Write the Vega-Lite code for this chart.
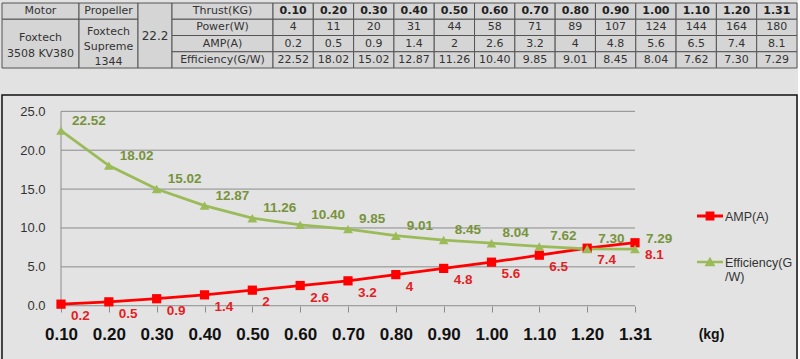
{
  "$schema": "https://vega.github.io/schema/vega-lite/v6.json",
  "background": "#e2e2e2",
  "padding": {"left": 1, "top": 2, "right": 0, "bottom": 0},
  "config": {"view": {"stroke": null}, "font": "DejaVu Sans"},
  "datasets": {
    "perf": [
      {"thrust": "0.10", "power": 4, "amp": 0.2, "eff": 22.52},
      {"thrust": "0.20", "power": 11, "amp": 0.5, "eff": 18.02},
      {"thrust": "0.30", "power": 20, "amp": 0.9, "eff": 15.02},
      {"thrust": "0.40", "power": 31, "amp": 1.4, "eff": 12.87},
      {"thrust": "0.50", "power": 44, "amp": 2, "eff": 11.26},
      {"thrust": "0.60", "power": 58, "amp": 2.6, "eff": 10.40},
      {"thrust": "0.70", "power": 71, "amp": 3.2, "eff": 9.85},
      {"thrust": "0.80", "power": 89, "amp": 4, "eff": 9.01},
      {"thrust": "0.90", "power": 107, "amp": 4.8, "eff": 8.45},
      {"thrust": "1.00", "power": 124, "amp": 5.6, "eff": 8.04},
      {"thrust": "1.10", "power": 144, "amp": 6.5, "eff": 7.62},
      {"thrust": "1.20", "power": 164, "amp": 7.4, "eff": 7.30},
      {"thrust": "1.31", "power": 180, "amp": 8.1, "eff": 7.29}
    ]
  },
  "spacing": 25,
  "vconcat": [
    {
      "bounds": "flush",
      "spacing": 0,
      "hconcat": [
        {
          "width": 77, "height": 65,
          "data": {"values": [{"c": "Motor", "r0": 0, "r1": 1, "t": "Motor"}, {"c": "Motor", "r0": 1, "r1": 4, "t": "Foxtech\n3508 KV380"}]},
          "transform": [{"calculate": "(datum.r0+datum.r1)/2", "as": "rm"}],
          "layer": [
            {"mark": {"type": "rect", "fill": "#d5d5d5", "stroke": "#555", "strokeWidth": 1},
             "encoding": {"x": {"field": "c", "type": "nominal", "scale": {"paddingInner": 0, "paddingOuter": 0}, "axis": null},
                          "y": {"field": "r0", "type": "quantitative", "scale": {"domain": [0, 4], "reverse": true, "nice": false, "zero": false}, "axis": null},
                          "y2": {"field": "r1"}}},
            {"transform": [{"filter": "datum.r0 == 0"}],
             "mark": {"type": "text", "fontSize": 11, "color": "#333"},
             "encoding": {"x": {"field": "c", "type": "nominal"}, "y": {"field": "rm", "type": "quantitative"}, "text": {"field": "t"}}},
            {"transform": [{"filter": "datum.r0 == 1"}],
             "mark": {"type": "text", "fontSize": 11, "color": "#333", "lineBreak": "\n", "lineHeight": 16, "dy": -6},
             "encoding": {"x": {"field": "c", "type": "nominal"}, "y": {"field": "rm", "type": "quantitative"}, "text": {"field": "t"}}}
          ]
        },
        {
          "width": 59, "height": 65,
          "data": {"values": [{"c": "Propeller", "r0": 0, "r1": 1, "t": "Propeller"}, {"c": "Propeller", "r0": 1, "r1": 4, "t": "Foxtech\nSupreme\n1344"}]},
          "transform": [{"calculate": "(datum.r0+datum.r1)/2", "as": "rm"}],
          "layer": [
            {"mark": {"type": "rect", "fill": "#d5d5d5", "stroke": "#555", "strokeWidth": 1},
             "encoding": {"x": {"field": "c", "type": "nominal", "scale": {"paddingInner": 0, "paddingOuter": 0}, "axis": null},
                          "y": {"field": "r0", "type": "quantitative", "scale": {"domain": [0, 4], "reverse": true, "nice": false, "zero": false}, "axis": null},
                          "y2": {"field": "r1"}}},
            {"transform": [{"filter": "datum.r0 == 0"}],
             "mark": {"type": "text", "fontSize": 11, "color": "#333"},
             "encoding": {"x": {"field": "c", "type": "nominal"}, "y": {"field": "rm", "type": "quantitative"}, "text": {"field": "t"}}},
            {"transform": [{"filter": "datum.r0 == 1"}],
             "mark": {"type": "text", "fontSize": 11, "color": "#333", "lineBreak": "\n", "lineHeight": 15, "dy": -12},
             "encoding": {"x": {"field": "c", "type": "nominal"}, "y": {"field": "rm", "type": "quantitative"}, "text": {"field": "t"}}}
          ]
        },
        {
          "width": 34, "height": 65,
          "data": {"values": [{"c": "V", "r0": 0, "r1": 4, "t": "22.2"}]},
          "transform": [{"calculate": "(datum.r0+datum.r1)/2", "as": "rm"}],
          "layer": [
            {"mark": {"type": "rect", "fill": "#d5d5d5", "stroke": "#555", "strokeWidth": 1},
             "encoding": {"x": {"field": "c", "type": "nominal", "scale": {"paddingInner": 0, "paddingOuter": 0}, "axis": null},
                          "y": {"field": "r0", "type": "quantitative", "scale": {"domain": [0, 4], "reverse": true, "nice": false, "zero": false}, "axis": null},
                          "y2": {"field": "r1"}}},
            {"mark": {"type": "text", "fontSize": 12, "color": "#333"},
             "encoding": {"x": {"field": "c", "type": "nominal"}, "y": {"field": "rm", "type": "quantitative"}, "text": {"field": "t"}}}
          ]
        },
        {
          "width": 101, "height": 65,
          "data": {"values": [{"c": "L", "row": "thrust", "t": "Thrust(KG)"}, {"c": "L", "row": "power", "t": "Power(W)"}, {"c": "L", "row": "amp", "t": "AMP(A)"}, {"c": "L", "row": "eff", "t": "Efficiency(G/W)"}]},
          "encoding": {
            "x": {"field": "c", "type": "nominal", "scale": {"paddingInner": 0, "paddingOuter": 0}, "axis": null},
            "y": {"field": "row", "type": "nominal", "scale": {"domain": ["thrust", "power", "amp", "eff"], "paddingInner": 0, "paddingOuter": 0}, "axis": null}
          },
          "layer": [
            {"mark": {"type": "rect", "fill": "#d5d5d5", "stroke": "#555", "strokeWidth": 1}},
            {"mark": {"type": "text", "fontSize": 11, "color": "#333"}, "encoding": {"text": {"field": "t"}}}
          ]
        },
        {
          "width": 524, "height": 65,
          "data": {"name": "perf"},
          "layer": [
            {"transform": [{"fold": ["thrust", "power", "amp", "eff"], "as": ["key", "val"]}],
             "mark": {"type": "rect", "fill": "#d5d5d5", "stroke": "#555", "strokeWidth": 1},
             "encoding": {
               "x": {"field": "thrust", "type": "ordinal", "sort": null, "scale": {"paddingInner": 0, "paddingOuter": 0}, "axis": null},
               "y": {"field": "key", "type": "nominal", "scale": {"domain": ["thrust", "power", "amp", "eff"], "paddingInner": 0, "paddingOuter": 0}, "axis": null}
             }},
            {"mark": {"type": "text", "fontSize": 11, "fontWeight": "bold", "color": "#222"},
             "encoding": {"x": {"field": "thrust", "type": "ordinal", "sort": null}, "y": {"datum": "thrust", "type": "nominal"}, "text": {"field": "thrust"}}},
            {"mark": {"type": "text", "fontSize": 11, "color": "#333"},
             "encoding": {"x": {"field": "thrust", "type": "ordinal", "sort": null}, "y": {"datum": "power", "type": "nominal"}, "text": {"field": "power", "type": "quantitative"}}},
            {"mark": {"type": "text", "fontSize": 11, "color": "#333"},
             "encoding": {"x": {"field": "thrust", "type": "ordinal", "sort": null}, "y": {"datum": "amp", "type": "nominal"}, "text": {"field": "amp", "type": "quantitative"}}},
            {"mark": {"type": "text", "fontSize": 11, "color": "#333"},
             "encoding": {"x": {"field": "thrust", "type": "ordinal", "sort": null}, "y": {"datum": "eff", "type": "nominal"}, "text": {"field": "eff", "type": "quantitative", "format": ".2f"}}}
          ]
        }
      ]
    },
    {
      "width": 795, "height": 265,
      "view": {"stroke": "#111", "strokeWidth": 1.5, "fill": "#e3e3e3"},
      "layer": [
        {
          "data": {"values": [{"g": 0}, {"g": 5}, {"g": 10}, {"g": 15}, {"g": 20}, {"g": 25}]},
          "mark": {"type": "rule", "color": "#8c8c8c", "strokeWidth": 1},
          "encoding": {
            "x": {"datum": "0.10", "type": "ordinal", "scale": {"type": "point", "domain": ["0.10", "0.20", "0.30", "0.40", "0.50", "0.60", "0.70", "0.80", "0.90", "1.00", "1.10", "1.20", "1.31"], "padding": 0, "range": [59, 633]}},
            "x2": {"datum": "1.31"},
            "y": {"field": "g", "type": "quantitative", "scale": {"domain": [-6.98, 27.1], "nice": false, "zero": false}}
          }
        },
        {
          "data": {"values": [{"g": 0}]},
          "mark": {"type": "rule", "color": "#8c8c8c", "strokeWidth": 1},
          "encoding": {
            "x": {"datum": "0.10", "type": "ordinal", "scale": {"type": "point", "domain": ["0.10", "0.20", "0.30", "0.40", "0.50", "0.60", "0.70", "0.80", "0.90", "1.00", "1.10", "1.20", "1.31"], "padding": 0, "range": [59, 633]}},
            "y": {"datum": 0, "type": "quantitative"},
            "y2": {"datum": 25}
          }
        },
        {
          "data": {"name": "perf"},
          "transform": [{"fold": ["amp", "eff"], "as": ["series", "v"]}],
          "encoding": {
            "x": {
              "field": "thrust", "type": "ordinal",
              "scale": {"type": "point", "domain": ["0.10", "0.20", "0.30", "0.40", "0.50", "0.60", "0.70", "0.80", "0.90", "1.00", "1.10", "1.20", "1.31"], "padding": 0, "range": [59, 633]},
              "axis": {
                "orient": "bottom", "offset": -54, "domain": false, "ticks": true, "tickSize": 6, "tickColor": "#8c8c8c",
                "labelFont": "Liberation Sans", "labelFontSize": 17, "labelFontWeight": "bold", "labelColor": "#111",
                "labelBaseline": "middle", "labelAlign": "center", "labelFlush": false, "labelBound": false, "labelOverlap": false,
                "labelPadding": 22, "labelAngle": 0,
                "title": "(kg)", "titleX": 709, "titleY": 28, "titleFont": "Liberation Sans", "titleFontSize": 14, "titleFontWeight": "bold",
                "titleColor": "#111", "titleBaseline": "middle", "titleAlign": "center", "titleAngle": 0
              }
            },
            "y": {
              "field": "v", "type": "quantitative",
              "scale": {"domain": [-6.98, 27.1], "nice": false, "zero": false},
              "axis": {
                "values": [0, 5, 10, 15, 20, 25], "format": ".1f", "orient": "left", "offset": -59,
                "domain": false, "ticks": false, "grid": false, "labelPadding": 16, "title": null,
                "labelFont": "Liberation Sans", "labelFontSize": 13, "labelColor": "#333"
              }
            }
          },
          "layer": [
            {
              "mark": {"type": "line", "strokeWidth": 2.75},
              "encoding": {
                "color": {
                  "field": "series", "type": "nominal",
                  "scale": {"domain": ["amp", "eff"], "range": ["#ff0000", "#9bbb59"]},
                  "legend": {
                    "orient": "none", "legendX": 695, "legendY": 200, "title": null, "padding": 0,
                    "symbolSize": 676, "rowPadding": 26, "labelOffset": 2,
                    "labelFont": "Liberation Sans", "labelFontSize": 12.5, "labelColor": "#333", "labelBaseline": "alphabetic",
                    "labelExpr": "datum.value == 'amp' ? 'AMP(A)' : ['Efficiency(G', '/W)']",
                    "encode": {
                      "symbols": {"update": {
                        "shape": {"signal": "datum.value == 'amp' ? 'M-1,-0.11H1V0.11H-1Z M-0.34,-0.34H0.34V0.34H-0.34Z' : 'M-1,-0.1H1V0.1H-1Z M0,-0.4L0.42,0.32H-0.42Z'"},
                        "fill": {"signal": "datum.value == 'amp' ? '#ff0000' : '#9bbb59'"},
                        "strokeWidth": {"value": 0},
                        "opacity": {"value": 1},
                        "fillOpacity": {"value": 1}
                      }},
                      "labels": {"update": {"dy": {"value": 4.5}}}
                    }
                  }
                }
              }
            },
            {
              "transform": [{"filter": "datum.series == 'amp'"}],
              "mark": {"type": "point", "filled": true, "opacity": 1, "size": 85, "shape": "square", "color": "#ff0000"}
            },
            {
              "transform": [{"filter": "datum.series == 'eff'"}],
              "mark": {"type": "point", "filled": true, "opacity": 1, "size": 95, "shape": "triangle-up", "color": "#9bbb59"}
            },
            {
              "transform": [{"filter": "datum.series == 'eff'"}],
              "mark": {"type": "text", "align": "left", "dx": 11, "dy": -10, "font": "Liberation Sans", "fontSize": 13.5, "fontWeight": "bold", "color": "#77933c"},
              "encoding": {"text": {"field": "v", "type": "quantitative", "format": ".2f"}}
            },
            {
              "transform": [{"filter": "datum.series == 'amp'"}],
              "mark": {"type": "text", "align": "left", "dx": 10, "dy": 12, "font": "Liberation Sans", "fontSize": 13.5, "fontWeight": "bold", "color": "#e31e24"},
              "encoding": {"text": {"field": "v", "type": "quantitative"}}
            }
          ]
        }
      ]
    }
  ]
}
